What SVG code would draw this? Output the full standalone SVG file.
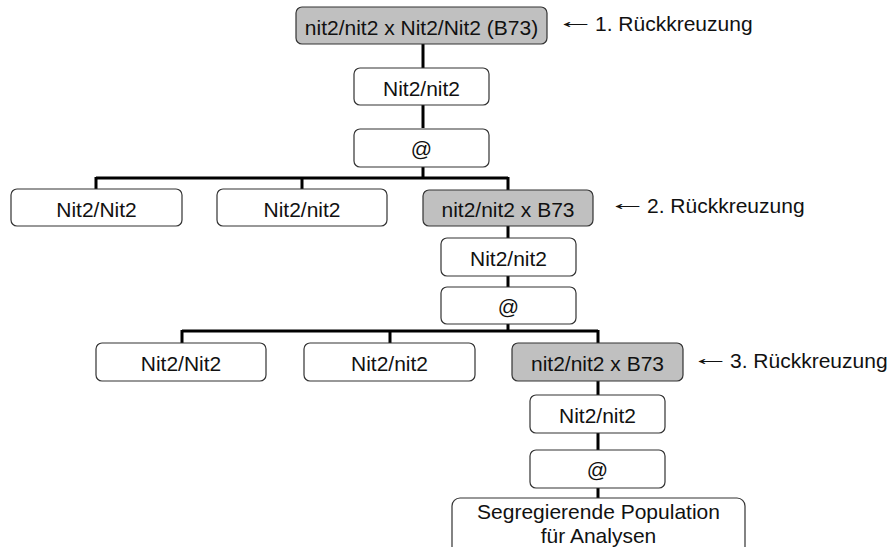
<svg xmlns="http://www.w3.org/2000/svg" width="892" height="547" viewBox="0 0 892 547">
<style>
.box{fill:#ffffff;stroke:#333333;stroke-width:1.2}
.gray{fill:#c0c0c0;stroke:#333333;stroke-width:1.2}
text{font-family:"Liberation Sans",Arial,sans-serif;font-size:21px;fill:#111111}
.c{text-anchor:middle}
.conn{stroke:#000000;stroke-width:3;fill:none}
</style>
<rect width="892" height="547" fill="#ffffff"/>
<g id="connectors">
<path class="conn" d="M423 44V68M423 105V128M423 167V178"/>
<path class="conn" d="M96 178H508M96 177V189M302 177V189M508 177V190"/>
<path class="conn" d="M508 226V238M508 276V287M508 324V331"/>
<path class="conn" d="M182 331H598M182 330V343M390 330V343M598 330V343"/>
<path class="conn" d="M598 381V395M598 433V450M598 488V498"/>
</g>
<g id="n1"><rect class="gray" x="296" y="7" width="251" height="37" rx="6"/><text class="c" x="421.5" y="35">nit2/nit2 x Nit2/Nit2 (B73)</text></g>
<g id="n2"><rect class="box" x="354" y="68" width="135" height="37" rx="6"/><text class="c" x="421.5" y="96">Nit2/nit2</text></g>
<g id="n3"><rect class="box" x="354" y="129" width="135" height="38" rx="6"/><text class="c" x="421.5" y="156">@</text></g>
<g id="n4"><rect class="box" x="11" y="189" width="171" height="37" rx="6"/><text class="c" x="96.5" y="217">Nit2/Nit2</text></g>
<g id="n5"><rect class="box" x="217" y="189" width="170" height="37" rx="6"/><text class="c" x="302" y="217">Nit2/nit2</text></g>
<g id="n6"><rect class="gray" x="423" y="190" width="170" height="36" rx="6"/><text class="c" x="508" y="217">nit2/nit2 x B73</text></g>
<g id="n7"><rect class="box" x="441" y="238" width="135" height="38" rx="6"/><text class="c" x="508.5" y="266">Nit2/nit2</text></g>
<g id="n8"><rect class="box" x="441" y="287" width="135" height="37" rx="6"/><text class="c" x="508.5" y="314">@</text></g>
<g id="n9"><rect class="box" x="96" y="343" width="170" height="38" rx="6"/><text class="c" x="181" y="371">Nit2/Nit2</text></g>
<g id="n10"><rect class="box" x="304" y="343" width="171" height="38" rx="6"/><text class="c" x="389.5" y="371">Nit2/nit2</text></g>
<g id="n11"><rect class="gray" x="512" y="343" width="171" height="38" rx="6"/><text class="c" x="597.5" y="371">nit2/nit2 x B73</text></g>
<g id="n12"><rect class="box" x="530" y="395" width="135" height="38" rx="6"/><text class="c" x="597.5" y="423">Nit2/nit2</text></g>
<g id="n13"><rect class="box" x="530" y="450" width="135" height="38" rx="6"/><text class="c" x="597.5" y="477">@</text></g>
<g id="n14"><rect class="box" x="452" y="498" width="293" height="60" rx="8"/><text class="c" x="598.5" y="519">Segregierende Population</text><text class="c" x="598.5" y="543">für Analysen</text></g>
<g id="labels">
<text transform="translate(556,28) scale(1.9,1)">←</text><text x="595" y="31">1. Rückkreuzung</text>
<text transform="translate(608,210) scale(1.9,1)">←</text><text x="647" y="213">2. Rückkreuzung</text>
<text transform="translate(691,365) scale(1.9,1)">←</text><text x="730" y="368">3. Rückkreuzung</text>
</g>
</svg>
